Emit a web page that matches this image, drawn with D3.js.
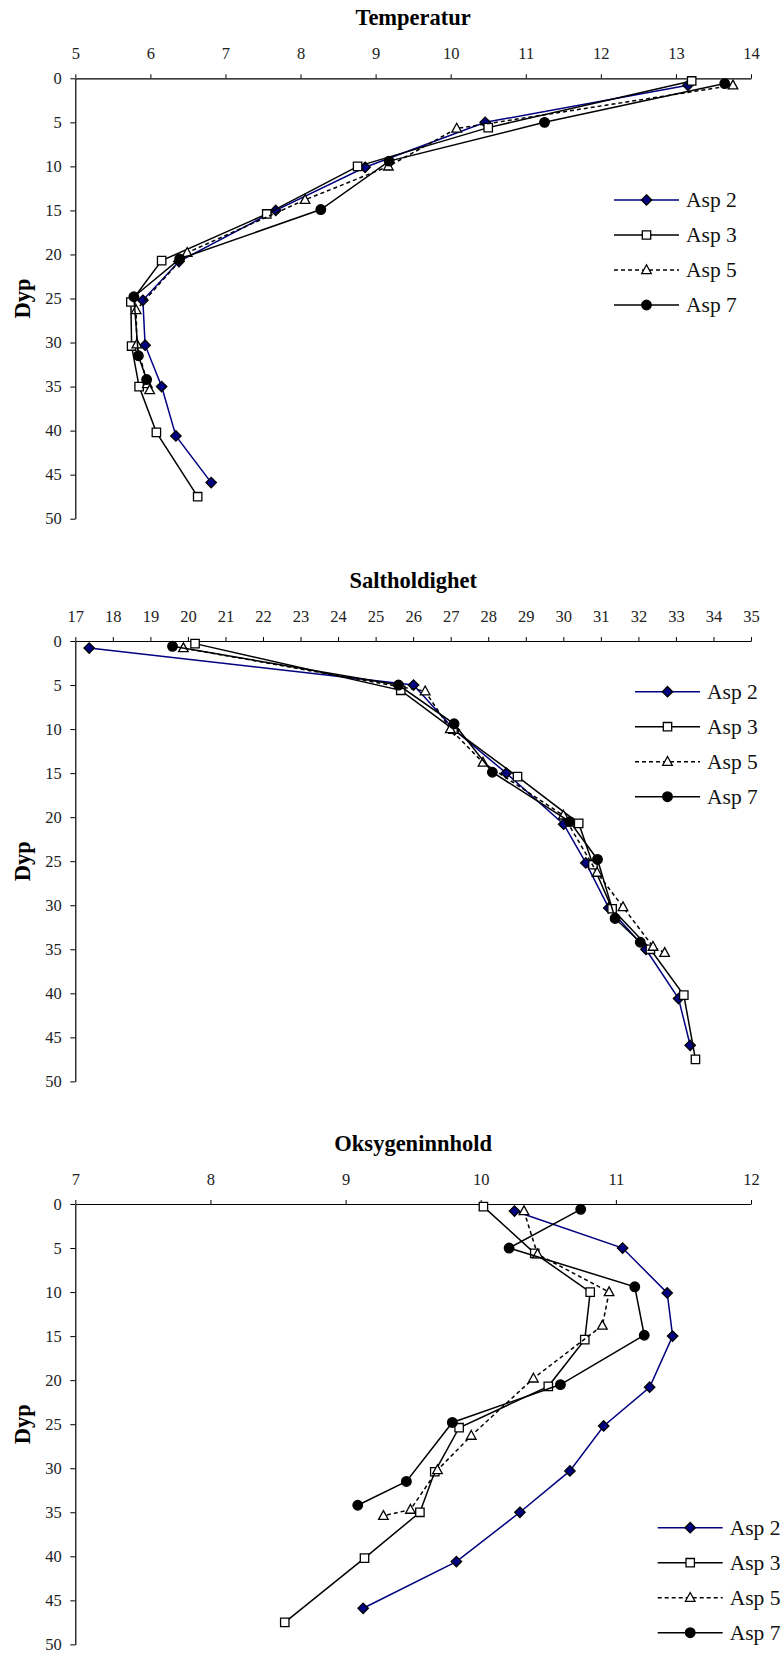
<!DOCTYPE html>
<html>
<head>
<meta charset="utf-8">
<script src="https://cdn.jsdelivr.net/npm/d3@7"></script>
<style>
  body { margin: 0; background: #fff; }
  svg, svg text { font-family: "Liberation Serif", "DejaVu Serif", serif; }
</style>
</head>
<body>
<div id="chart"></div>
<script>
// depths (m) for each station
const depthAsp2 = [0.8, 5.0, 10.1, 15.0, 20.8, 25.2, 30.3, 35.0, 40.6, 45.9];
const depthAsp3 = [0.3, 5.6, 10.0, 15.4, 20.7, 25.4, 30.4, 35.0, 40.2, 47.5];
const depthAsp5 = [0.8, 5.7, 10.0, 13.8, 19.8, 26.3, 30.2, 34.7, 35.4];
const depthAsp7 = [0.6, 5.0, 9.4, 14.9, 20.5, 24.8, 31.5, 34.2];

// Temperatur
const tempAsp2 = [13.16, 10.46, 8.86, 7.67, 6.38, 5.90, 5.93, 6.15, 6.34, 6.81];
const tempAsp3 = [13.21, 10.50, 8.76, 7.55, 6.15, 5.74, 5.75, 5.85, 6.08, 6.63];
const tempAsp5 = [13.76, 10.08, 9.17, 8.06, 6.49, 5.81, 5.82, 5.96, 5.99];
const tempAsp7 = [13.65, 11.25, 9.18, 8.27, 6.39, 5.78, 5.84, 5.95];

// Saltholdighet
const saltAsp2 = [17.37, 26.01, 27.10, 28.48, 30.01, 30.60, 31.21, 32.20, 33.07, 33.38];
const saltAsp3 = [20.19, 25.67, 27.06, 28.78, 30.41, 30.79, 31.30, 32.32, 33.21, 33.52];
const saltAsp5 = [19.88, 26.32, 26.99, 27.86, 30.00, 30.90, 31.59, 32.39, 32.70];
const saltAsp7 = [19.59, 25.61, 27.09, 28.11, 30.17, 30.91, 31.38, 32.05];

// Oksygeninnhold
const oxyAsp2 = [10.25, 11.05, 11.38, 11.42, 11.25, 10.91, 10.66, 10.29, 9.82, 9.13];
const oxyAsp3 = [10.02, 10.40, 10.81, 10.77, 10.50, 9.84, 9.66, 9.55, 9.14, 8.55];
const oxyAsp5 = [10.32, 10.42, 10.95, 10.90, 10.39, 9.93, 9.68, 9.48, 9.28];
const oxyAsp7 = [10.74, 10.21, 11.14, 11.21, 10.59, 9.79, 9.45, 9.09];

const seriesNames = ['Asp 2', 'Asp 3', 'Asp 5', 'Asp 7'];
const depthTicks = [0, 5, 10, 15, 20, 25, 30, 35, 40, 45, 50];
const tempTicks = [5, 6, 7, 8, 9, 10, 11, 12, 13, 14];
const saltTicks = d3.range(17, 36);
const oxyTicks = [7, 8, 9, 10, 11, 12];

const fontFamily = '"Liberation Serif", "DejaVu Serif", serif';
const width = 784, height = 1653;
const svg = d3.select('#chart').append('svg')
    .attr('width', width)
    .attr('height', height)
    .attr('font-family', fontFamily);

const styles = [
    { color: '#000080', fill: '#000080', dash: null, shape: 'diamond' },
    { color: '#000', fill: '#fff', dash: null, shape: 'square' },
    { color: '#000', fill: '#fff', dash: '4,3', shape: 'triangle' },
    { color: '#000', fill: '#000', dash: null, shape: 'circle' }
];

// marker outlines, centred on 0,0
const shapePaths = {
    diamond: 'M0,-5.2L5.2,0L0,5.2L-5.2,0Z',
    square: 'M-4.2,-4.2H4.2V4.2H-4.2Z',
    triangle: 'M0,-5.2L4.8,3.6H-4.8Z',
    circle: d3.symbol().type(d3.symbolCircle).size(72)()
};

const charts = [
    { title: 'Temperatur', top: 78.3, ticks: tempTicks, values: [tempAsp2, tempAsp3, tempAsp5, tempAsp7],
      legend: { x: 614, y: 200 } },
    { title: 'Saltholdighet', top: 641, ticks: saltTicks, values: [saltAsp2, saltAsp3, saltAsp5, saltAsp7],
      legend: { x: 635, y: 691.7 } },
    { title: 'Oksygeninnhold', top: 1204, ticks: oxyTicks, values: [oxyAsp2, oxyAsp3, oxyAsp5, oxyAsp7],
      legend: { x: 657.7, y: 1527.7 } }
];
const depths = [depthAsp2, depthAsp3, depthAsp5, depthAsp7];

const plotLeft = 75.3, plotRight = 751, plotHeight = 440.4;

function drawMarker(g, st, x, y) {
    g.append('path')
        .attr('d', shapePaths[st.shape])
        .attr('transform', `translate(${x},${y})`)
        .attr('fill', st.fill)
        .attr('stroke', '#000')
        .attr('stroke-width', 1.3);
}

charts.forEach((c) => {
    const g = svg.append('g').attr('transform', `translate(0,${c.top})`);

    const x = d3.scaleLinear()
        .domain([c.ticks[0], c.ticks[c.ticks.length - 1]])
        .range([plotLeft, plotRight]);
    const y = d3.scaleLinear()
        .domain([0, 50])
        .range([0, plotHeight]);

    // title
    g.append('text')
        .attr('x', (plotLeft + plotRight) / 2)
        .attr('y', -53.5)
        .attr('text-anchor', 'middle')
        .attr('font-family', fontFamily)
        .attr('font-weight', 'bold')
        .attr('font-size', 22.5)
        .text(c.title);

    // y axis label
    g.append('text')
        .attr('transform', `translate(29.5,${plotHeight / 2}) rotate(-90)`)
        .attr('text-anchor', 'middle')
        .attr('font-family', fontFamily)
        .attr('font-weight', 'bold')
        .attr('font-size', 22.5)
        .text('Dyp');

    const xAxis = g.append('g')
        .call(d3.axisTop(x).tickValues(c.ticks).tickFormat(d3.format('d'))
            .tickSizeInner(4).tickSizeOuter(0).tickPadding(15));
    const yAxis = g.append('g')
        .attr('transform', `translate(${plotLeft},0)`)
        .call(d3.axisLeft(y).tickValues(depthTicks).tickFormat(d3.format('d'))
            .tickSizeInner(5).tickSizeOuter(0).tickPadding(8.5));

    [xAxis, yAxis].forEach((ax) => {
        ax.attr('font-family', fontFamily).attr('font-size', 16.5);
        ax.selectAll('path.domain').attr('stroke', '#000').attr('stroke-width', 1.2);
        ax.selectAll('.tick line').attr('stroke', '#000').attr('stroke-width', 1);
        ax.selectAll('.tick text').attr('fill', '#222');
    });

    // series lines, then markers
    c.values.forEach((vals, i) => {
        const st = styles[i];
        const pts = vals.map((v, k) => [x(v), y(depths[i][k])]);
        g.append('path')
            .attr('d', d3.line()(pts))
            .attr('fill', 'none')
            .attr('stroke', st.color)
            .attr('stroke-width', 1.5)
            .attr('stroke-dasharray', st.dash);
        pts.forEach((p) => drawMarker(g, st, p[0], p[1]));
    });

    // legend
    const lg = svg.append('g');
    seriesNames.forEach((name, i) => {
        const st = styles[i];
        const ly = c.legend.y + i * 35;
        lg.append('line')
            .attr('x1', c.legend.x).attr('x2', c.legend.x + 65)
            .attr('y1', ly).attr('y2', ly)
            .attr('stroke', st.color)
            .attr('stroke-width', 1.5)
            .attr('stroke-dasharray', st.dash);
        drawMarker(lg, st, c.legend.x + 32.5, ly);
        lg.append('text')
            .attr('x', c.legend.x + 72)
            .attr('y', ly + 7)
            .attr('font-family', fontFamily)
            .attr('font-size', 21.5)
            .attr('fill', '#111')
            .text(name);
    });
});
</script>
</body>
</html>
